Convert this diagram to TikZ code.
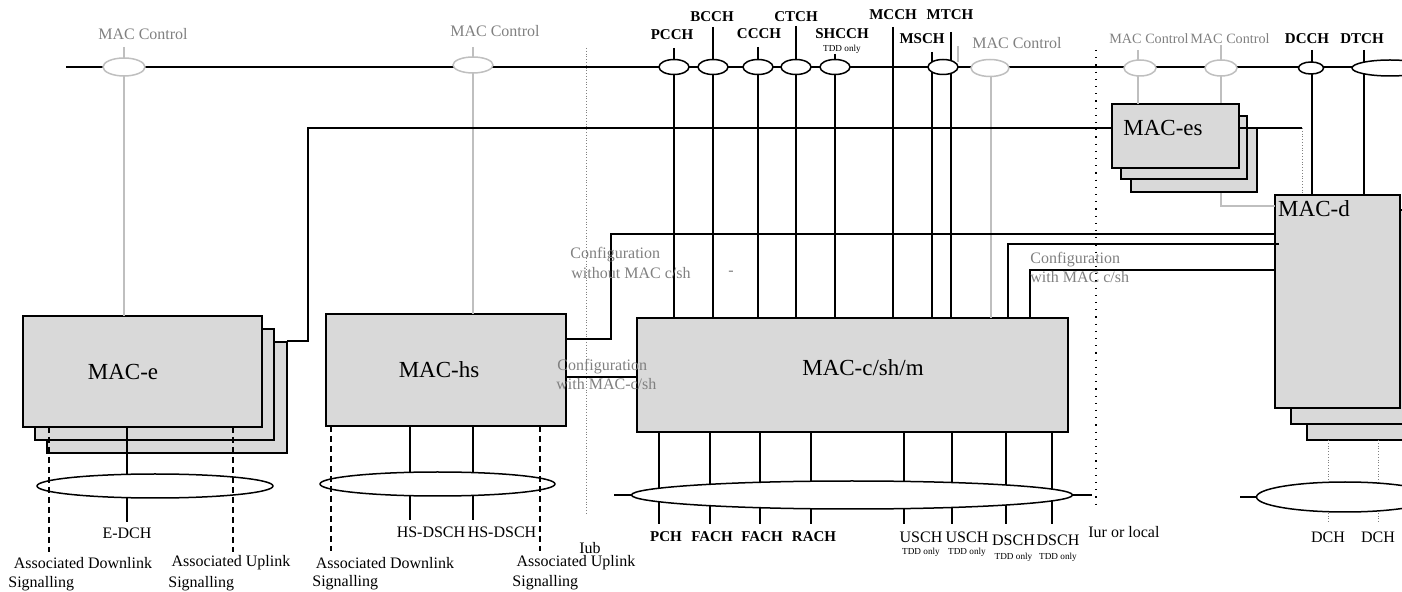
\documentclass[tikz,border=0pt]{standalone}
\usepackage{fontspec}
\setmainfont{Liberation Serif}
\usetikzlibrary{shapes.geometric}
\definecolor{boxfill}{HTML}{D9D9D9}
\definecolor{ctlgray}{HTML}{BFBFBF}
\definecolor{txtgray}{HTML}{808080}
\begin{document}
\begin{tikzpicture}[x=0.5pt,y=-0.5pt,
 line/.style={line width=0.75pt},
 ctl/.style={line width=0.75pt, draw=ctlgray},
 macbox/.style={draw, line width=1pt, fill=boxfill, inner sep=0pt, outer sep=0pt},
 chell/.style={ellipse, draw, line width=0.75pt, fill=white, inner sep=0pt, outer sep=0pt},
 ctlell/.style={ellipse, draw=ctlgray, line width=0.75pt, fill=white, inner sep=0pt, outer sep=0pt},
 chlab/.style={font=\bfseries\fontsize{7.5}{9}\selectfont, inner sep=0pt},
 trlab/.style={font=\bfseries\fontsize{7.5}{9}\selectfont, inner sep=0pt},
 tdd/.style={font=\fontsize{4.6}{5}\selectfont, inner sep=0pt},
 lab/.style={font=\fontsize{8}{9}\selectfont, inner sep=0pt},
 ctllab/.style={font=\fontsize{8}{9}\selectfont, text=txtgray, inner sep=0pt},
 smctllab/.style={font=\fontsize{7.1}{8}\selectfont, text=txtgray, inner sep=0pt},
 biglab/.style={font=\fontsize{11.5}{13}\selectfont, inner sep=0pt},
 sig/.style={line width=0.75pt, dash pattern=on 3pt off 2pt},
 fine/.style={line width=0.4pt, gray, densely dotted},
]
\useasboundingbox (0,0) rectangle (1402,592);
\clip (0,0) rectangle (1402,592);

% interface borders
\draw[fine] (586,48) -- (586,515);
\draw[line width=0.6pt, dash pattern=on 0.6pt off 3pt] (1096,50) -- (1096,507);

% bus
\coordinate (busL) at (66,67);
\coordinate (busR) at (1402,67);
\draw[line] (busL) -- (busR);

% ---------- boxes ----------
\node[macbox, minimum width=120pt, minimum height=55.5pt] (macEb) at (167,397.5) {};
\node[macbox, minimum width=119.5pt, minimum height=55.5pt] (macEa) at (154.5,384.5) {};
\node[macbox, minimum width=119.5pt, minimum height=55.5pt] (macE) at (142.5,371.5) {};
\node[biglab] (macElab) at (123,372) {MAC-e};

\node[macbox, minimum width=120pt, minimum height=56pt] (macHS) at (446,370) {};
\node[biglab] (macHSlab) at (439,370) {MAC-hs};

\node[macbox, minimum width=215.5pt, minimum height=57pt] (macC) at (852.5,375) {};
\node[biglab] (macClab) at (863,368) {MAC-c/sh/m};

\node[macbox, minimum width=66.5pt, minimum height=107pt] (macDb) at (1373.5,333) {};
\node[macbox, minimum width=64.5pt, minimum height=107pt] (macDa) at (1355.5,317) {};
\node[macbox, minimum width=62.5pt, minimum height=106.5pt] (macD) at (1337.5,301.5) {};
\node[biglab] (macDlab) at (1314,209) {MAC-d};

% gray control line under MAC-es into MAC-d
\coordinate (mc5T) at (1221,45);
\coordinate (g5) at (1221,206);
\draw[ctl] (mc5T) -- (g5) -- (macD.west |- g5);
\coordinate (mc4T) at (1138,50);

\node[macbox, minimum width=63pt, minimum height=32pt] (macESb) at (1194,160) {};
\node[macbox, minimum width=63pt, minimum height=31.5pt] (macESa) at (1184,147.5) {};
\node[macbox, minimum width=63.5pt, minimum height=32pt] (macES) at (1175.5,136) {};
\node[biglab] (macESlab) at (1163,128) {MAC-es};
\draw[ctl] (mc4T) -- (macES.north -| mc4T);

% ---------- MAC control (gray) ----------
\coordinate (mc1T) at (124,47);
\draw[ctl] (mc1T) -- (macE.north -| mc1T);
\node[ctlell, minimum width=21pt, minimum height=9pt] (mc1) at (124,67) {};
\node[ctllab] (mc1L) at (143,34) {MAC Control};

\coordinate (mc2T) at (473,47);
\draw[ctl] (mc2T) -- (macHS.north -| mc2T);
\node[ctlell, minimum width=20pt, minimum height=8pt] (mc2) at (473,65) {};
\node[ctllab] (mc2L) at (495,31) {MAC Control};

\coordinate (mc3T) at (991,68);
\draw[ctl] (mc3T) -- (macC.north -| mc3T);
\draw[ctl] (958,46) -- (958,62);
\node[ctlell, minimum width=19pt, minimum height=8.5pt] (mc3) at (990,68) {};
\node[ctllab] (mc3L) at (1017,43) {MAC Control};

\node[ctlell, minimum width=16pt, minimum height=8pt] (mc4) at (1140,68) {};
\node[smctllab] (mc4L) at (1149,39) {MAC Control};
\node[ctlell, minimum width=16pt, minimum height=8pt] (mc5) at (1221,68) {};
\node[smctllab] (mc5L) at (1230,39) {MAC Control};

% ---------- logical channels ----------
\foreach \nm/\x/\t in {pcch/674/48, bcch/713/27, ccch/758/47, ctch/796/26, shcch/835/54, mcch/893/27, msch/932/52, mtch/951/32}{
  \coordinate (\nm T) at (\x,\t);
  \draw[line] (\nm T) -- (macC.north -| \nm T);
}
\foreach \nm/\x in {pcch/674, bcch/713, ccch/758, ctch/796, shcch/835}{
  \node[chell, minimum width=15pt, minimum height=7.5pt] (\nm E) at (\x,67) {};
}
\node[chell, minimum width=15pt, minimum height=7.5pt] (mschE) at (943,67) {};
\node[chlab] (pcchL) at (672,35) {PCCH};
\node[chlab] (bcchL) at (712,17) {BCCH};
\node[chlab] (ccchL) at (759,34) {CCCH};
\node[chlab] (ctchL) at (796,17) {CTCH};
\node[chlab] (shcchL) at (842,34) {SHCCH};
\node[tdd] (shcchT) at (842,49) {TDD only};
\node[chlab] (mcchL) at (893,15) {MCCH};
\node[chlab] (mtchL) at (950,15) {MTCH};
\node[chlab] (mschL) at (922,39) {MSCH};

\coordinate (dcchT) at (1312,50);
\draw[line] (dcchT) -- (macD.north -| dcchT);
\coordinate (dtchT) at (1364,50);
\draw[line] (dtchT) -- (macD.north -| dtchT);
\node[chell, minimum width=12.5pt, minimum height=6pt] (dcchE) at (1311,68) {};
\node[chell, minimum width=38pt, minimum height=8pt] (dtchE) at (1390,68) {};
\node[chlab] (dcchL) at (1307,39) {DCCH};
\node[chlab] (dtchL) at (1362,39) {DTCH};

% ---------- interconnections ----------
\coordinate (e1) at (308,341);
\coordinate (e2) at (308,128);
\draw[line] (macEb.east |- e1) -- (e1) -- (e2) -- (macES.west |- e2);

\coordinate (es1) at (1302,128);
\draw[line] (macES.east |- es1) -- (es1);
\draw[fine] (es1) -- (macD.north -| es1);

\coordinate (w1) at (611,339);
\coordinate (w2) at (611,234);
\draw[line] (macHS.east |- w1) -- (w1) -- (w2) -- (macD.west |- w2);

\coordinate (h1) at (600,377);
\draw[line] (macHS.east |- h1) -- (macC.west |- h1);

\coordinate (c1) at (1008,244);
\coordinate (c1e) at (1279,244);
\draw[line] (macC.north -| c1) -- (c1) -- (c1e);
\coordinate (c2) at (1030,270);
\draw[line] (macC.north -| c2) -- (c2) -- (macD.west |- c2);

\node[ctllab, anchor=west] (cfg1a) at (570,255) {Configuration};
\node[ctllab, anchor=west] (cfg1b) at (571,273) {without MAC c/sh};
\node[lab, text=txtgray] (dash) at (731,273) {-};
\node[ctllab, anchor=west] (cfg2a) at (557,367) {Configuration};
\node[ctllab, anchor=west] (cfg2b) at (556,384) {with MAC-c/sh};
\node[ctllab, anchor=west] (cfg3a) at (1030,260) {Configuration};
\node[ctllab, anchor=west] (cfg3b) at (1030,277) {with MAC c/sh};

% ---------- MAC-e transport ----------
\coordinate (edchB) at (127,522);
\draw[line] (macE.south -| edchB) -- (edchB);
\node[chell, minimum width=118pt, minimum height=12pt] (ellE) at (155,486) {};
\coordinate (sdE) at (49,552);
\coordinate (suE) at (233,552);
\draw[sig] (macE.south -| sdE) -- (sdE);
\draw[sig] (macE.south -| suE) -- (suE);
\node[lab] (edchL) at (127,533) {E-DCH};
\node[lab] (adE) at (83,563) {Associated Downlink};
\node[lab, anchor=west] (adE2) at (8,584) {Signalling};
\node[lab] (auE) at (231,563) {Associated Uplink};
\node[lab, anchor=west] (auE2) at (168,584) {Signalling};

% ---------- MAC-hs transport ----------
\coordinate (hs1B) at (410,520);
\coordinate (hs2B) at (473,520);
\draw[line] (macHS.south -| hs1B) -- (hs1B);
\draw[line] (macHS.south -| hs2B) -- (hs2B);
\node[chell, minimum width=117.5pt, minimum height=12pt] (ellHS) at (437.5,484) {};
\coordinate (sdH) at (331,551);
\coordinate (suH) at (540,551);
\draw[sig] (macHS.south -| sdH) -- (sdH);
\draw[sig] (macHS.south -| suH) -- (suH);
\node[lab] (hs1L) at (431,532) {HS-DSCH};
\node[lab] (hs2L) at (502,532) {HS-DSCH};
\node[lab] (iubL) at (590,548) {Iub};
\node[lab] (adH) at (385,563) {Associated Downlink};
\node[lab, anchor=west] (adH2) at (312,583) {Signalling};
\node[lab] (auH) at (576,563) {Associated Uplink};
\node[lab, anchor=west] (auH2) at (512,583) {Signalling};

% ---------- MAC-c/sh/m transport ----------
\coordinate (stubL) at (614,495);
\coordinate (stubR) at (1092,495);
\draw[line] (stubL) -- (stubR);
\foreach \x in {659,710,760,811,904,952,1006,1052}{
  \coordinate (tb) at (\x,524);
  \draw[line] (macC.south -| tb) -- (tb);
}
\node[chell, minimum width=220.5pt, minimum height=14pt] (ellC) at (852,495) {};
\node[trlab] (pchL) at (666,537) {PCH};
\node[trlab] (fach1L) at (712,537) {FACH};
\node[trlab] (fach2L) at (762,537) {FACH};
\node[trlab] (rachL) at (814,537) {RACH};
\node[lab] (usch1L) at (921,537) {USCH};
\node[tdd] (usch1T) at (921,552) {TDD only};
\node[lab] (usch2L) at (967,537) {USCH};
\node[tdd] (usch2T) at (967,552) {TDD only};
\node[lab] (dsch1L) at (1013.5,540) {DSCH};
\node[tdd] (dsch1T) at (1013.5,557.5) {TDD only};
\node[lab] (dsch2L) at (1058,540) {DSCH};
\node[tdd] (dsch2T) at (1058,557.5) {TDD only};
\node[lab, anchor=west] (iurL) at (1088,532) {Iur or local};

% ---------- MAC-d transport ----------
\coordinate (dch1B) at (1328,523);
\coordinate (dch2B) at (1378,523);
\draw[fine] (macDb.south -| dch1B) -- (dch1B);
\draw[fine] (macDb.south -| dch2B) -- (dch2B);
\coordinate (stubD) at (1240,497);
\node[chell, minimum width=88.5pt, minimum height=15pt] (ellD) at (1345,497) {};
\draw[line] (stubD) -- (ellD.west);
\node[lab] (dch1L) at (1328,537) {DCH};
\node[lab] (dch2L) at (1378,537) {DCH};
\end{tikzpicture}
\end{document}
